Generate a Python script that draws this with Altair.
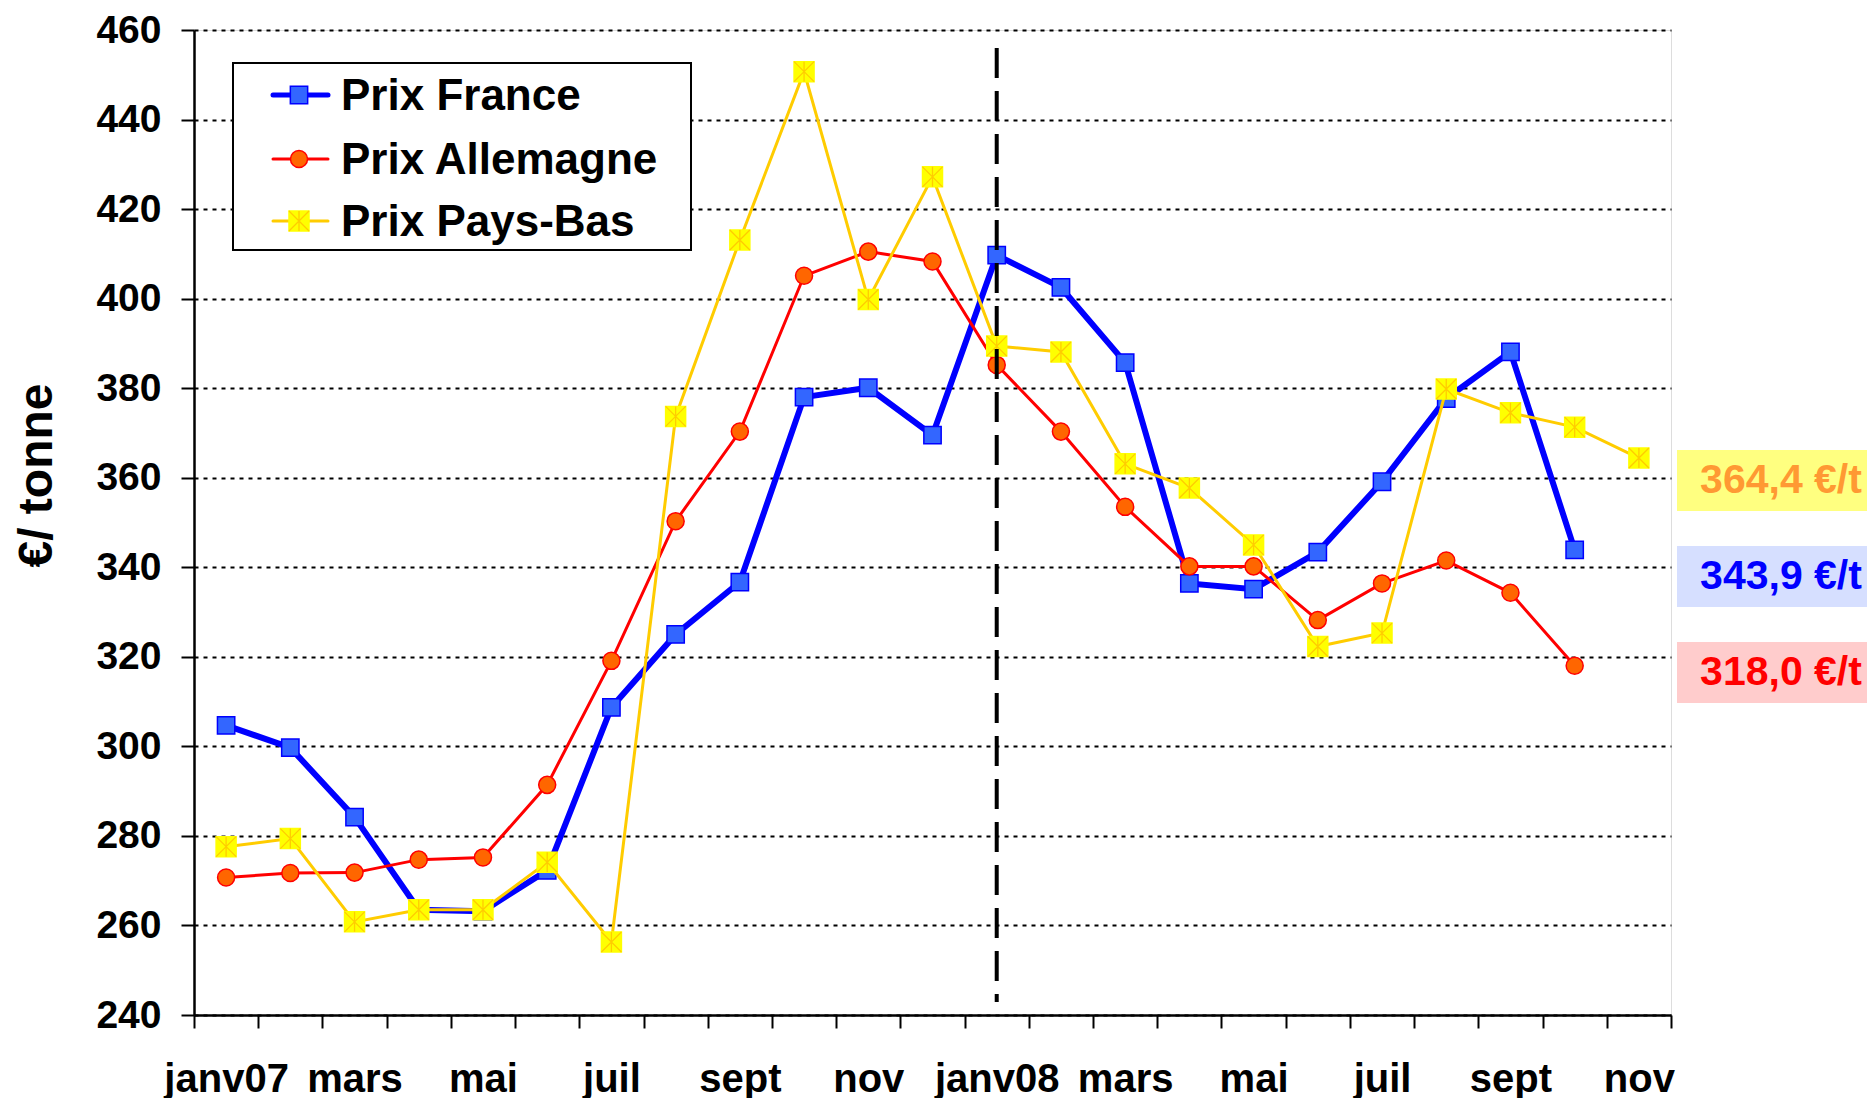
import json
import altair as alt
import pandas as pd

# ---------------- data ----------------
months = ["janv07", "févr", "mars", "avr", "mai", "juin", "juil", "août", "sept", "oct", "nov", "déc",
          "janv08", "févr", "mars", "avr", "mai", "juin", "juil", "août", "sept", "oct", "nov"]
tick_labels = ["janv07", "mars", "mai", "juil", "sept", "nov",
               "janv08", "mars", "mai", "juil", "sept", "nov"]

prix_france = [304.7, 299.7, 284.2, 263.5, 263.2, 272.3, 308.7, 325.0, 336.7, 378.0, 380.1, 369.5,
               409.7, 402.5, 385.7, 336.4, 335.1, 343.4, 359.1, 377.7, 388.1, 343.9, None]
prix_allemagne = [270.7, 271.7, 271.8, 274.7, 275.2, 291.4, 319.1, 350.3, 370.3, 405.1, 410.5, 408.3,
                  385.2, 370.3, 353.5, 340.2, 340.2, 328.2, 336.4, 341.5, 334.3, 318.0, None]
prix_paysbas = [277.6, 279.4, 260.8, 263.5, 263.5, 274.1, 256.3, 373.7, 413.1, 450.7, 399.8, 427.2,
                389.4, 388.1, 363.1, 357.7, 345.0, 322.3, 325.3, 379.8, 374.5, 371.3, 364.4]

series_names = ["Prix France", "Prix Allemagne", "Prix Pays-Bas"]
end_labels = ["364,4 €/t", "343,9 €/t", "318,0 €/t"]
end_label_series = ["Prix Pays-Bas", "Prix France", "Prix Allemagne"]
separator_month = "janv08"

# ---------------- build ----------------
FONT = "Liberation Sans"
W, H = 1477, 985
n = len(months)

rows = []
for name, vals in zip(series_names, [prix_france, prix_allemagne, prix_paysbas]):
    for i, v in enumerate(vals):
        if v is not None:
            rows.append({"serie": name, "mois": months[i], "pos": i + 0.5, "prix": v})
df = pd.DataFrame(rows)

lab_arr = [tick_labels[k // 2] if (k % 2 == 0 and k // 2 < len(tick_labels)) else "" for k in range(n + 1)]
lab_expr = json.dumps(lab_arr, ensure_ascii=False) + "[datum.value]"

xscale = alt.Scale(domain=[0, n], nice=False, zero=False)
yscale = alt.Scale(domain=[240, 460], nice=False, zero=False)

xaxis = alt.Axis(values=list(range(n + 1)), labelExpr=lab_expr, labelOffset=W / n / 2,
                 tickSize=13, tickColor="black", tickWidth=2, domainColor="black", domainWidth=2.5,
                 labelFont=FONT, labelFontSize=40, labelFontWeight="bold", labelColor="black",
                 labelPadding=31, labelOverlap=False, labelBound=False, labelFlush=False,
                 grid=False, title=None)
yaxis = alt.Axis(values=list(range(240, 461, 20)), tickSize=13, tickColor="black", tickWidth=2,
                 domainColor="black", domainWidth=2.5,
                 labelFont=FONT, labelFontSize=39, labelFontWeight="bold", labelColor="black",
                 labelPadding=20, labelOverlap=False,
                 grid=True, gridColor="black", gridDash=[4, 5], gridWidth=2,
                 title="€/ tonne", titleFont=FONT, titleFontSize=48, titleFontWeight="bold",
                 titleColor="black", titleAngle=270, titleX=-157, titleY=445,
                 titleAlign="center", titleBaseline="middle")

X = alt.X("pos:Q", scale=xscale, axis=xaxis)
Y = alt.Y("prix:Q", scale=yscale, axis=yaxis)

styles = {
    "Prix France": dict(line="#0000FF", lw=6, shape="square", fill="#3366FF", stroke="#0000FF", size=300),
    "Prix Allemagne": dict(line="#FF0000", lw=3, shape="circle", fill="#FF6600", stroke="#FF0000", size=290),
    "Prix Pays-Bas": dict(line="#FFCC00", lw=3, shape="square", fill="#FFFF00", stroke="#FFFF00", size=400),
}
ASTER = "M-1,-1L1,1M-1,1L1,-1M0,-1L0,1"

base = alt.Chart(df)
layers = []
sep_idx = months.index(separator_month)
one = pd.DataFrame({"k": [0]})

for name in series_names:
    st = styles[name]
    sub = base.transform_filter(alt.datum.serie == name)
    layers.append(sub.mark_line(color=st["line"], strokeWidth=st["lw"]).encode(x=X, y=Y))
    layers.append(sub.mark_point(shape=st["shape"], filled=True, fill=st["fill"], stroke=st["stroke"],
                                 strokeWidth=1.5, size=st["size"], opacity=1).encode(x=X, y=Y))
    if name == "Prix Pays-Bas":
        layers.append(sub.mark_point(shape=ASTER, filled=False, stroke="#FFCC00", strokeWidth=1.3,
                                     size=st["size"], opacity=1).encode(x=X, y=Y))

# separator dashed line at janv08
sep_df = pd.DataFrame({"pos": [sep_idx + 0.5]})
layers.append(alt.Chart(sep_df).mark_rule(color="black", strokeWidth=4, strokeDash=[30, 13]).encode(
    x=alt.X("pos:Q", scale=xscale, axis=xaxis), y=alt.value(18), y2=alt.value(972)))

# legend
layers.append(alt.Chart(one).mark_rect(fill="white", stroke="black", strokeWidth=2).encode(
    x=alt.value(39), x2=alt.value(497), y=alt.value(33), y2=alt.value(220)))
leg_y = [65, 129, 191]
for name, yy in zip(series_names, leg_y):
    st = styles[name]
    ldf = pd.DataFrame({"serie": [name]})
    lc = alt.Chart(ldf)
    layers.append(lc.mark_rule(color=st["line"], strokeWidth=max(st["lw"] - 1, 3), strokeCap="round").encode(
        x=alt.value(79), x2=alt.value(134), y=alt.value(yy)))
    layers.append(lc.mark_point(shape=st["shape"], filled=True, fill=st["fill"], stroke=st["stroke"],
                                strokeWidth=1.5, size=st["size"], opacity=1).encode(
        x=alt.value(105), y=alt.value(yy)))
    if name == "Prix Pays-Bas":
        layers.append(lc.mark_point(shape=ASTER, filled=False, stroke="#FFCC00", strokeWidth=1.3,
                                    size=st["size"], opacity=1).encode(x=alt.value(105), y=alt.value(yy)))
    layers.append(lc.mark_text(align="left", baseline="middle", font=FONT, fontSize=44,
                               fontWeight="bold", color="black").encode(
        x=alt.value(147), y=alt.value(yy + 2), text="serie:N"))

# end-value labels on the right
box_style = {
    "Prix Pays-Bas": ("#FFFF80", "#FF9933"),
    "Prix France": ("#D6DFFF", "#0000FF"),
    "Prix Allemagne": ("#FFCCCC", "#FF0000"),
}
box_top = [420, 516, 612]
for lab, name, top in zip(end_labels, end_label_series, box_top):
    bg, fg = box_style[name]
    tdf = pd.DataFrame({"label": [lab]})
    tc = alt.Chart(tdf)
    layers.append(tc.mark_rect(fill=bg).encode(
        x=alt.value(1483), x2=alt.value(1690), y=alt.value(top), y2=alt.value(top + 61)))
    layers.append(tc.mark_text(align="center", baseline="middle", font=FONT, fontSize=41,
                               fontWeight="bold", color=fg).encode(
        x=alt.value(1587), y=alt.value(top + 31), text="label:N"))

chart = alt.layer(*layers).properties(
    width=W, height=H,
    autosize=alt.AutoSizeParams(type="none"),
    padding={"left": 186, "top": 22, "right": 196, "bottom": 86},
).configure_view(stroke="black", strokeWidth=2.5).configure(background="white")

chart.save("out.html", embed_options={"renderer": "svg", "actions": False})
